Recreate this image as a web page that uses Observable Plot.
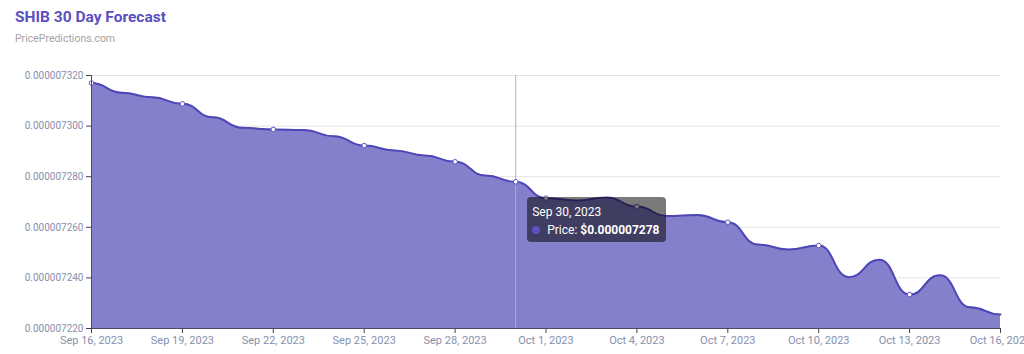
<!DOCTYPE html>
<html><head><meta charset="utf-8">
<script src="https://cdn.jsdelivr.net/npm/d3@7"></script>
<script src="https://cdn.jsdelivr.net/npm/@observablehq/plot@0.6"></script>
<style>
body{margin:0;background:#fff;font-family:Roboto,"Noto Sans",sans-serif;}
#wrap{position:relative;width:1024px;height:354px;overflow:hidden;background:#fff}
#title{position:absolute;left:15px;top:8px;font-size:15.5px;font-weight:700;color:#5a4fbf;letter-spacing:0}
#sub{position:absolute;left:15px;top:32px;font-size:10.5px;color:#a3a3a3}
#chart{position:absolute;left:0;top:60px}
#tip{position:absolute;background:rgba(0,0,0,0.52);border-radius:4px;color:#fff;font-size:12px;width:139px;height:45px;box-sizing:border-box;padding:6px 0 0 5px;line-height:18px;white-space:nowrap}
#tip .dot{display:inline-block;width:8px;height:8px;border-radius:50%;background:#5b52c8;margin:0 7px 0 0;vertical-align:0}
#tip b{font-weight:700}
</style></head>
<body>
<div id="wrap">
  <div id="title">SHIB 30 Day Forecast</div>
  <div id="sub">PricePredictions.com</div>
  <div id="chart"></div>
  <div id="tip"></div>
</div>
<script>
const dates = ["2023-09-16","2023-09-17","2023-09-18","2023-09-19","2023-09-20","2023-09-21","2023-09-22","2023-09-23","2023-09-24","2023-09-25","2023-09-26","2023-09-27","2023-09-28","2023-09-29","2023-09-30","2023-10-01","2023-10-02","2023-10-03","2023-10-04","2023-10-05","2023-10-06","2023-10-07","2023-10-08","2023-10-09","2023-10-10","2023-10-11","2023-10-12","2023-10-13","2023-10-14","2023-10-15","2023-10-16"];
const prices = [0.0000073170,0.0000073132,0.0000073114,0.0000073088,0.0000073035,0.0000072993,0.0000072987,0.0000072985,0.0000072960,0.0000072923,0.0000072904,0.0000072884,0.0000072859,0.0000072805,0.0000072780,0.0000072715,0.0000072706,0.0000072718,0.0000072682,0.0000072645,0.0000072649,0.0000072620,0.0000072532,0.0000072512,0.0000072528,0.0000072403,0.0000072472,0.0000072334,0.0000072410,0.0000072284,0.0000072255];
const xTickLabels = ["2023-09-16","2023-09-19","2023-09-22","2023-09-25","2023-09-28","2023-10-01","2023-10-04","2023-10-07","2023-10-10","2023-10-13","2023-10-16"];
const markerDates = ["2023-09-16","2023-09-19","2023-09-22","2023-09-25","2023-09-28","2023-09-30","2023-10-01","2023-10-04","2023-10-07","2023-10-10","2023-10-13"];
const yTicks = [0.00000722,0.00000724,0.00000726,0.00000728,0.00000730,0.00000732];
const hoverDate = "2023-09-30";

const data = dates.map((d,i)=>({date:new Date(d+"T00:00:00Z"), price:prices[i]}));
const xTicks = xTickLabels.map(d=>new Date(d+"T00:00:00Z"));
const markerSet = new Set(markerDates);
const markers = data.filter((d,i)=>markerSet.has(dates[i]));
const yMin = yTicks[0], yMax = yTicks[yTicks.length-1];
const hover = data[dates.indexOf(hoverDate)];
const fmtDate = d3.utcFormat("%b %-d, %Y");

const chart = Plot.plot({
  width:1024, height:294,
  marginTop:15, marginBottom:26, marginLeft:91, marginRight:24,
  style:{fontFamily:"Roboto, sans-serif", fontSize:"11px", background:"transparent", overflow:"visible"},
  x:{type:"utc", domain:[data[0].date, data[data.length-1].date]},
  y:{domain:[yMin,yMax]},
  marks:[
    Plot.gridY(yTicks,{stroke:"#e4e4e4", strokeOpacity:1}),
    Plot.areaY(data,{x:"date", y1:()=>yMin, y2:"price", fill:"#8580cc", curve:"bump-x"}),
    Plot.lineY(data,{x:"date", y:"price", stroke:"#4e45b6", strokeWidth:2, curve:"bump-x"}),
    Plot.ruleX([hover.date],{stroke:"#b0b0b0", strokeWidth:1}),
    Plot.dot(markers,{x:"date", y:"price", r:2.3, fill:"white", stroke:"#5a52c0", strokeWidth:1}),
    Plot.ruleY([yMin],{stroke:"#4a4a6a", strokeWidth:1}),
    Plot.ruleX([data[0].date],{stroke:"#4a4a6a", strokeWidth:1}),
    Plot.axisX(xTicks,{tickSize:5, tickFormat:fmtDate, stroke:"#444", fill:"#8790ad", tickPadding:3, label:null}),
    Plot.axisY(yTicks,{tickSize:5, tickFormat:d=>d.toFixed(9), stroke:"#444", fill:"#8790ad", tickPadding:3, fontSize:10, label:null})
  ]
});
document.getElementById("chart").appendChild(chart);

const sx = chart.scale("x"), sy = chart.scale("y");
const tip = document.getElementById("tip");
tip.innerHTML = `<div>${fmtDate(hover.date)}</div><div><span class="dot"></span>Price: <b>$${hover.price.toFixed(9)}</b></div>`;
tip.style.left = (sx.apply(hover.date)+12)+"px";
tip.style.top = (60+sy.apply(hover.price)+16)+"px";
</script>
</body></html>
